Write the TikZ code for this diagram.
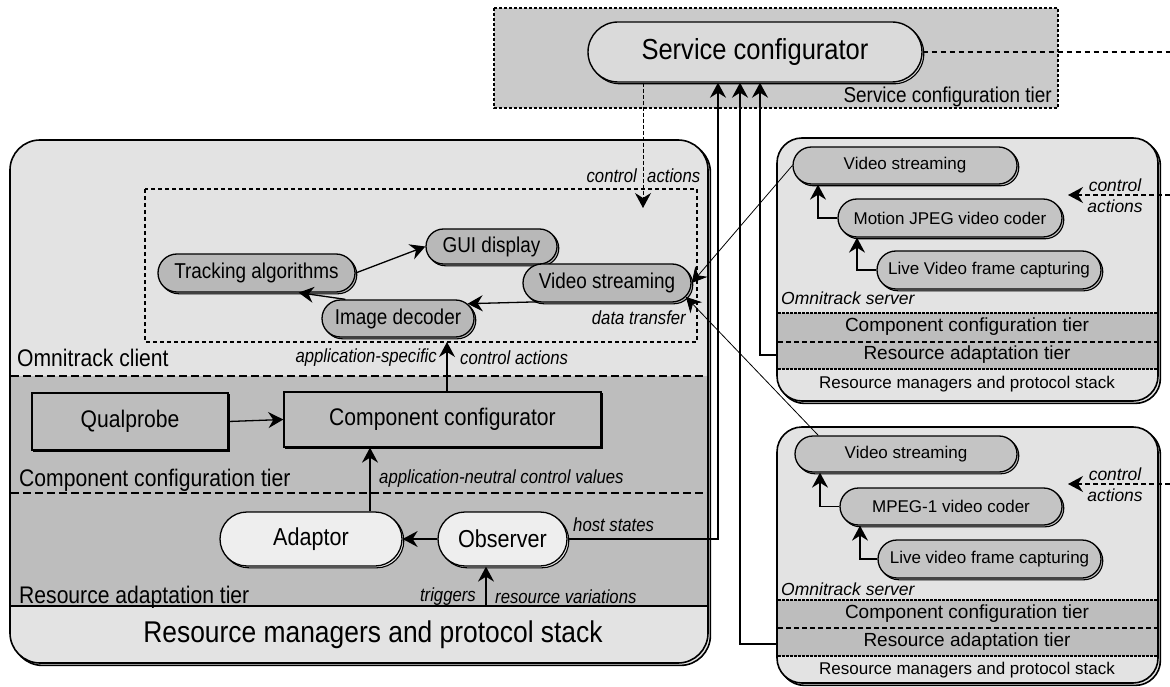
\documentclass[tikz,border=0pt]{standalone}
\usepackage{fontspec}
\setmainfont{Liberation Sans}
\newfontfamily\nar[FakeStretch=0.88]{Liberation Sans}
\usetikzlibrary{shapes.misc,shadows,arrows.meta}
\definecolor{lite}{HTML}{E3E3E3}
\definecolor{band}{HTML}{BDBDBD}
\definecolor{appg}{HTML}{B8B8B8}
\definecolor{srvg}{HTML}{C4C4C4}
\definecolor{tierg}{HTML}{CACACA}
\definecolor{scg}{HTML}{DADADA}
\definecolor{obsg}{HTML}{EEEEEE}
\newcommand\myfs[1]{\fontsize{#1}{#1}\selectfont}
\begin{document}
\begin{tikzpicture}[x=1pt,y=-1pt,
  tip/.style={-{Stealth[length=15pt,width=16pt,inset=5pt]}},
  arr/.style={line width=1.3pt,tip},
  thinarr/.style={line width=0.8pt,tip},
  sh/.style={general shadow={shadow xshift=1.8pt,shadow yshift=-1.8pt,draw=black,fill=#1,line width=1.1pt}},
  bigsh/.style={general shadow={shadow xshift=2.4pt,shadow yshift=-2.4pt,draw=black,fill=#1,line width=1.6pt}},
  appnode/.style={rounded rectangle,draw,line width=1.3pt,fill=appg,inner sep=0pt,sh=appg,font=\nar\myfs{21.5}},
  srvnode/.style={rounded rectangle,draw,line width=1.3pt,fill=srvg,inner sep=0pt,sh=srvg,font=\myfs{17}},
  obsnode/.style={rounded rectangle,draw,line width=1.3pt,fill=obsg,inner sep=0pt,sh=obsg,font=\nar\myfs{24.5}},
  recnode/.style={rectangle,draw,line width=1.3pt,fill=band,inner sep=0pt,sh=band,font=\nar\myfs{24}},
  bigbox/.style={rectangle,draw,line width=1.6pt,fill=lite,inner sep=0pt,bigsh=lite},
  tierlbl/.style={inner sep=0pt,font=\nar\myfs{24}},
  itl/.style={inner sep=0pt,font=\nar\itshape\myfs{19}},
  sitl/.style={inner sep=0pt,font=\itshape\myfs{17.5}},
  stier/.style={inner sep=0pt,font=\myfs{19}},
  dotline/.style={line width=1.7pt,dash pattern=on 2.5pt off 1.5pt},
  dashline/.style={line width=1.2pt,dash pattern=on 5pt off 3pt},
  sepline/.style={line width=1.3pt,dash pattern=on 8pt off 4pt}
]
\useasboundingbox (0,0) rectangle (1170,687);
\fill[white] (0,0) rectangle (1170,687);

% ---------------- service configuration tier
\draw[fill=tierg,line width=1.3pt,dash pattern=on 3pt off 2pt] (494,8) rectangle (1058,108);
\node[inner sep=0pt,font=\nar\myfs{21.5},anchor=east] (sctl) at (1052,97) {Service configuration tier};
\node[rounded rectangle,draw,line width=1.4pt,fill=scg,sh=scg,inner sep=0pt,
      minimum width=334pt,minimum height=60pt,font=\nar\myfs{29}] (sc) at (755,52) {Service configurator};

% ---------------- client
\node[bigbox,rounded corners=30pt,minimum width=698pt,minimum height=523pt] (cli) at (359,401.5) {};
\fill[band] (10.8,376) rectangle (707.2,606);
\draw[sepline] (10.8,376) -- (707.2,376);
\draw[sepline] (10.8,493) -- (707.2,493);
\draw[line width=1.3pt] (10.8,606) -- (707.2,606);
\draw[line width=1.3pt,dash pattern=on 4pt off 3pt] (145,189) rectangle (697,342);

\node[appnode,minimum width=197pt,minimum height=38pt] (track) at (256.5,273) {Tracking algorithms};
\node[appnode,minimum width=131pt,minimum height=35pt] (gui) at (491.5,246.5) {GUI display};
\node[appnode,minimum width=168pt,minimum height=38pt] (cvs) at (607,283) {Video streaming};
\node[appnode,minimum width=152pt,minimum height=37pt] (dec) at (398,318.5) {Image decoder};
\node[recnode,minimum width=196pt,minimum height=57pt] (qp) at (130,421.5) {Qualprobe};
\node[recnode,minimum width=317pt,minimum height=55pt] (cc) at (442.5,419.5) {Component configurator};
\node[obsnode,minimum width=182pt,minimum height=54pt] (ad) at (311,539) {Adaptor};
\node[obsnode,minimum width=129pt,minimum height=54pt] (obs) at (502.5,539) {Observer};

\node[tierlbl,anchor=west] (lclient) at (17,358) {Omnitrack client};
\node[tierlbl,anchor=west] (lcct) at (19,480) {Component configuration tier};
\node[tierlbl,anchor=west] (lrat) at (19,597) {Resource adaptation tier};
\node[inner sep=0pt,font=\nar\myfs{30}] (lrm) at (373,635) {Resource managers and protocol stack};

\node[itl,anchor=east] (lca1) at (637,176) {control};
\node[itl,anchor=west] (lca2) at (647,176) {actions};
\node[itl,anchor=east] (ldt) at (686,318) {data transfer};
\node[itl,anchor=east] (las) at (437,358) {application-specific};
\node[itl,anchor=west] (lasc) at (460,358) {control actions};
\node[itl,anchor=west] (lan) at (379,479) {application-neutral control values};
\node[itl,anchor=west] (lhs) at (573,525) {host states};
\node[itl,anchor=east] (ltr) at (476,597) {triggers};
\node[itl,anchor=west] (lrv) at (495,597) {resource variations};

% ---------------- server 1
\node[bigbox,rounded corners=25pt,minimum width=381pt,minimum height=263pt] (s1) at (967.5,269.5) {};
\fill[band] (778,313) rectangle (1157,369);
\draw[dotline] (778,313) -- (1157,313);
\draw[dashline] (778,342) -- (1157,342);
\draw[dotline] (778,369) -- (1157,369);
\node[stier] (s1cct) at (967,327) {Component configuration tier};
\node[stier] (s1rat) at (967,355) {Resource adaptation tier};
\node[inner sep=0pt,font=\myfs{17}] (s1rm) at (967,384) {Resource managers and protocol stack};
\node[sitl,anchor=west] (s1om) at (781,298) {Omnitrack server};
\node[srvnode,minimum width=224pt,minimum height=37pt] (vs1) at (905,165.5) {Video streaming};
\node[srvnode,minimum width=224pt,minimum height=38pt] (mj) at (950,218) {Motion JPEG video coder};
\node[srvnode,minimum width=224pt,minimum height=38pt] (live1) at (989,270) {Live Video frame capturing};
\node[sitl] (s1c1) at (1115,185) {control};
\node[sitl] (s1c2) at (1115,206) {actions};

% ---------------- server 2
\node[bigbox,rounded corners=25pt,minimum width=381pt,minimum height=256pt] (s2) at (967.5,555) {};
\fill[band] (778,600) rectangle (1157,656);
\draw[dotline] (778,600) -- (1157,600);
\draw[dashline] (778,628) -- (1157,628);
\draw[dotline] (778,656) -- (1157,656);
\node[stier] (s2cct) at (967,614) {Component configuration tier};
\node[stier] (s2rat) at (967,642) {Resource adaptation tier};
\node[inner sep=0pt,font=\myfs{17}] (s2rm) at (967,670) {Resource managers and protocol stack};
\node[sitl,anchor=west] (s2om) at (781,589) {Omnitrack server};
\node[srvnode,minimum width=222pt,minimum height=36pt] (vs2) at (906,454) {Video streaming};
\node[srvnode,minimum width=222pt,minimum height=37pt] (mpeg) at (951,506.5) {MPEG-1 video coder};
\node[srvnode,minimum width=223pt,minimum height=38pt] (live2) at (989.5,559) {Live video frame capturing};
\node[sitl] (s2c1) at (1115,474) {control};
\node[sitl] (s2c2) at (1115,495) {actions};

% ---------------- coordinates
\coordinate (ca) at (643,208);
\coordinate (db) at (447,342);
\coordinate (x370) at (370,0);
\coordinate (trg) at (486,606);
\coordinate (x718) at (718,0);
\coordinate (x740) at (740,0);
\coordinate (x760) at (760,0);
\coordinate (r1) at (777,355);
\coordinate (r2) at (777,644);
\coordinate (a1) at (818,0);
\coordinate (a2) at (857,0);
\coordinate (a3) at (820,0);
\coordinate (a4) at (860,0);
\coordinate (c1) at (1170,195);
\coordinate (c1e) at (1068,195);
\coordinate (c2) at (1170,484);
\coordinate (c2e) at (1068,484);
\coordinate (scr) at (1170,52);

% ---------------- connectors
\draw[line width=1.2pt,dash pattern=on 5pt off 4pt] (sc.east) -- (scr);
\draw[line width=0.9pt,dash pattern=on 4pt off 2pt,tip] (sc.south -| ca) -- (ca);
\draw[arr] (track.east) -- (gui.west);
\draw[arr] (dec.160) -- (track.-25);
\draw[arr] (cvs.195) -- (dec.12);
\draw[arr] (qp.east) -- (cc.west);
\draw[arr] (cc.north -| db) -- (db);
\draw[arr] (ad.north -| x370) -- (cc.south -| x370);
\draw[arr] (obs.west) -- (ad.east);
\draw[arr] (trg) -- (obs.south -| trg);
\draw[arr] (obs.east) -| (sc.south -| x718);
\draw[arr] (r2) -| (sc.south -| x740);
\draw[arr] (r1) -| (sc.south -| x760);
\draw[arr] (mj.west) -| (vs1.south -| a1);
\draw[arr] (live1.west) -| (mj.south -| a2);
\draw[arr] (mpeg.west) -| (vs2.south -| a3);
\draw[arr] (live2.west) -| (mpeg.south -| a4);
\draw[line width=1.2pt,dash pattern=on 5pt off 3pt,tip] (c1) -- (c1e);
\draw[line width=1.2pt,dash pattern=on 5pt off 3pt,tip] (c2) -- (c2e);
\draw[thinarr] (vs1.west) -- (cvs.east);
\draw[thinarr] (vs2.168) -- (cvs.-10);
\end{tikzpicture}
\end{document}
